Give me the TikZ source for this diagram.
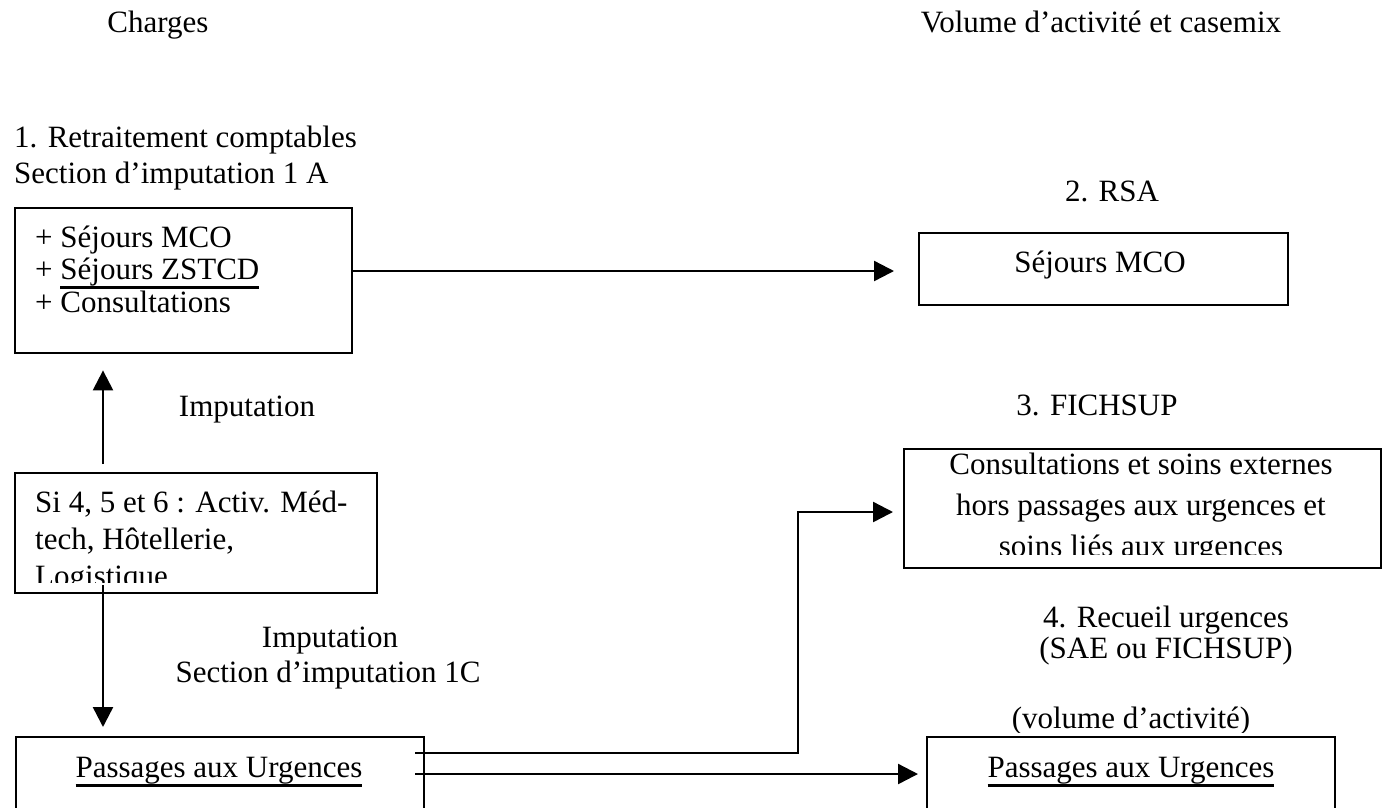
\documentclass[tikz,border=0pt]{standalone}
\usepackage{fontspec}
\setmainfont{Liberation Serif}
\usetikzlibrary{arrows.meta,calc}
\newcommand{\myul}[1]{\setbox0=\hbox{#1}\rlap{\vrule width\wd0 height -7pt depth 9.5pt}\box0}
\begin{document}
\begin{tikzpicture}[x=1pt,y=-1pt,
  font=\fontsize{31}{36}\selectfont,
  box/.style={draw,line width=2.4pt,anchor=north west,inner sep=0pt},
  txt/.style={inner sep=0pt,anchor=base},
  txtl/.style={inner sep=0pt,anchor=base west},
  arr/.style={line width=2.4pt,-{Triangle[length=20pt,width=20pt]}}]
\useasboundingbox (0,0) rectangle (1391,807);

% headers
\node[txt] (hcharges) at (158,32) {Charges};
\node[txt] (hvolume) at (1101,32) {Volume d’activité et casemix};

% left column labels
\node[txtl] (l1a) at (14,147) {1. Retraitement comptables};
\node[txtl] (l1b) at (14,183) {Section d’imputation 1 A};

% box 1
\node[box,minimum width=337pt,minimum height=145pt] (b1) at (14,207) {};
\node[txtl] (b1t1) at (35,247) {+ Séjours MCO};
\node[txtl] (b1t2) at (35,279) {+ \myul{Séjours ZSTCD}};
\node[txtl] (b1t3) at (35,312) {+ Consultations};

% box 2
\node[txt] (rsa) at (1112,201) {2. RSA};
\node[box,minimum width=369pt,minimum height=72pt] (b2) at (918,232) {};
\node[txt] (b2t) at (1100,272) {Séjours MCO};

% imputation label 1
\node[txt] (imp1) at (247,416) {Imputation};

% box 3
\node[box,minimum width=362pt,minimum height=120pt] (b3) at (14,472) {};
\begin{scope}
\clip (14,472) rectangle (376,582);
\node[txtl] (b3t1) at (35,512) {Si 4, 5 et 6 : Activ. Méd-};
\node[txtl] (b3t2) at (35,549) {tech, Hôtellerie,};
\node[txtl] (b3t3) at (35,586) {Logistique};
\end{scope}

% FICHSUP
\node[txt] (fich) at (1097,415) {3. FICHSUP};
\node[box,minimum width=477pt,minimum height=119pt] (bf) at (903,448) {};
\begin{scope}
\clip (903,448) rectangle (1380,554);
\node[txt] (bft1) at (1141,474) {Consultations et soins externes};
\node[txt] (bft2) at (1141,515) {hors passages aux urgences et};
\node[txt] (bft3) at (1141,556) {soins liés aux urgences};
\end{scope}

% imputation label 2
\node[txt] (imp2) at (330,647) {Imputation};
\node[txt] (sec1c) at (328,682) {Section d’imputation 1C};

% recueil labels
\node[txt] (rec1) at (1166,627) {4. Recueil urgences};
\node[txt] (rec2) at (1166,658) {(SAE ou FICHSUP)};
\begin{scope}
\clip (900,690) rectangle (1391,732);
\node[txt] (rec3) at (1131,728) {(volume d’activité)};
\end{scope}

% box 4 and 5
\node[box,minimum width=408pt,minimum height=80pt] (b4) at (15,736) {};
\node[txt] (b4t) at (219,777) {\myul{Passages aux Urgences}};
\node[box,minimum width=408pt,minimum height=80pt] (b5) at (926,736) {};
\node[txt] (b5t) at (1131,777) {\myul{Passages aux Urgences}};

% helper coordinates
\coordinate (y1) at (0,271);
\coordinate (xv) at (103,0);
\coordinate (yf) at (0,512);
\coordinate (ya) at (0,753);
\coordinate (yb) at (0,774);
\coordinate (xe) at (798,0);

% connectors
\draw[arr] (b1.east |- y1) -- ($(b2.west |- y1)+(-24,0)$);
\draw[arr] ($(xv |- b3.north)+(0,-8)$) -- ($(xv |- b1.south)+(0,16)$);
\draw[arr] ($(xv |- b3.south)+(0,-9)$) -- ($(xv |- b4.north)+(0,-9)$);
\draw[arr] ($(b4.east |- ya)+(-10,0)$) -| (xe |- yf) -- ($(bf.west |- yf)+(-10,0)$);
\draw[arr] ($(b4.east |- yb)+(-10,0)$) -- ($(b5.west |- yb)+(-8,0)$);
\end{tikzpicture}
\end{document}
